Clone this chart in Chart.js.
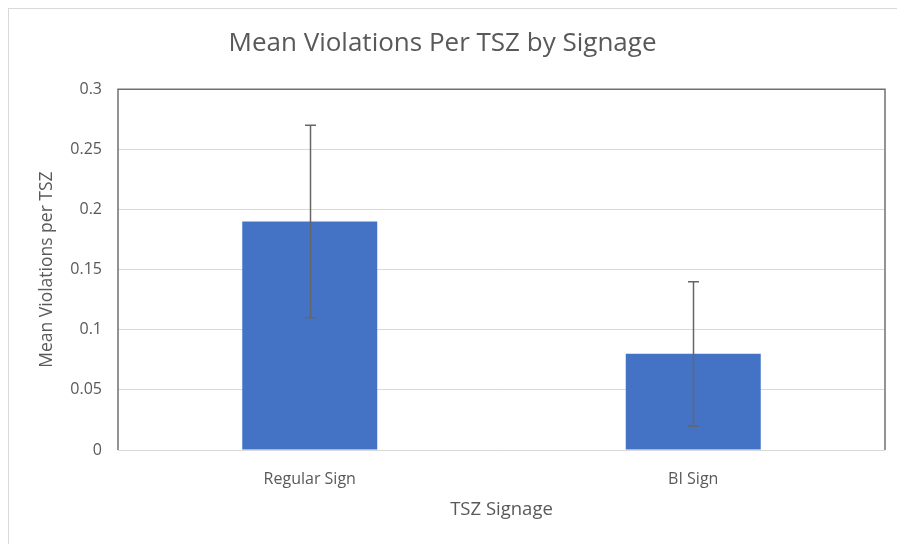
<!DOCTYPE html>
<html>
<head>
<meta charset="utf-8">
<script src="https://cdn.jsdelivr.net/npm/chart.js@4/dist/chart.umd.min.js"></script>
<style>
  html, body { margin: 0; padding: 0; background: #fff; }
  #wrap { width: 897px; height: 544px; position: relative; }
</style>
</head>
<body>
<div id="wrap"><canvas id="signage" width="897" height="544"></canvas></div>
<script>
var categories = ["Regular Sign", "BI Sign"];
var meanViolations = [0.19, 0.08];
var errorMargins = [0.08, 0.06];
var yTicks = [0, 0.05, 0.1, 0.15, 0.2, 0.25, 0.3];

var grey = "#595959";
var fontName = "'Open Sans', 'Noto Sans', sans-serif";

// outer border and plot frame
var framePlugin = {
  id: 'frame',
  beforeDraw: function(chart) {
    var ctx = chart.ctx;
    ctx.save();
    ctx.strokeStyle = "#d9d9d9";
    ctx.lineWidth = 1;
    ctx.strokeRect(8.5, 8.5, 1000, 1000);
    ctx.restore();
  },
  afterDatasetsDraw: function(chart) {
    var ctx = chart.ctx;
    var a = chart.chartArea;
    ctx.save();
    ctx.strokeStyle = "#707070";
    ctx.lineWidth = 1.5;
    ctx.beginPath();
    ctx.moveTo(a.left, a.bottom);
    ctx.lineTo(a.left, a.top);
    ctx.lineTo(a.right, a.top);
    ctx.lineTo(a.right, a.bottom);
    ctx.stroke();
    ctx.restore();
  }
};

// error bars from the data, through the y scale
var errorBarPlugin = {
  id: 'errorBars',
  afterDatasetsDraw: function(chart) {
    var ctx = chart.ctx;
    var yScale = chart.scales.y;
    var meta = chart.getDatasetMeta(0);
    ctx.save();
    ctx.strokeStyle = "#666666";
    ctx.lineWidth = 1.5;
    meta.data.forEach(function(bar, i) {
      var v = meanViolations[i], e = errorMargins[i];
      var yTop = yScale.getPixelForValue(v + e);
      var yBot = yScale.getPixelForValue(v - e);
      var x = Math.round(bar.x) + 0.5;
      ctx.beginPath();
      ctx.moveTo(x, yTop);
      ctx.lineTo(x, yBot);
      ctx.moveTo(x - 5.5, yTop);
      ctx.lineTo(x + 5.5, yTop);
      ctx.moveTo(x - 5.5, yBot);
      ctx.lineTo(x + 5.5, yBot);
      ctx.stroke();
    });
    ctx.restore();
  }
};

new Chart(document.getElementById("signage"), {
  type: 'bar',
  data: {
    labels: categories,
    datasets: [{
      data: meanViolations,
      backgroundColor: "#4472c4",
      borderWidth: 0,
      barPercentage: 0.352,
      categoryPercentage: 1
    }]
  },
  options: {
    responsive: false,
    animation: false,
    layout: { padding: { left: 0, right: 12, top: 0, bottom: 0 } },
    plugins: {
      legend: { display: false },
      tooltip: { enabled: false },
      title: {
        display: true,
        text: 'Mean Violations Per TSZ by Signage',
        color: grey,
        font: { family: fontName, size: 26, weight: 'normal' },
        padding: { top: 28, bottom: 30 }
      }
    },
    scales: {
      x: {
        grid: { display: false },
        border: { display: false },
        ticks: { color: grey, font: { family: fontName, size: 16 }, padding: 12 },
        title: {
          display: true,
          text: 'TSZ Signage',
          color: grey,
          font: { family: fontName, size: 18.5 },
          padding: { top: 0, bottom: 23 }
        },
        afterFit: function(scale) { scale.height = 94; }
      },
      y: {
        min: 0,
        max: 0.3,
        afterBuildTicks: function(scale) {
          scale.ticks = yTicks.map(function(v) { return { value: v }; });
        },
        grid: { color: "#d9d9d9", lineWidth: 1, drawTicks: false },
        border: { display: false },
        ticks: {
          color: grey,
          font: { family: fontName, size: 16 },
          padding: 16,
          callback: function(v) { return String(v); }
        },
        title: {
          display: true,
          text: 'Mean Violations per TSZ',
          color: grey,
          font: { family: fontName, size: 17.5 },
          padding: { top: 37, bottom: 0 }
        },
        afterFit: function(scale) { scale.width = 118; }
      }
    }
  },
  plugins: [framePlugin, errorBarPlugin]
});
</script>
</body>
</html>
